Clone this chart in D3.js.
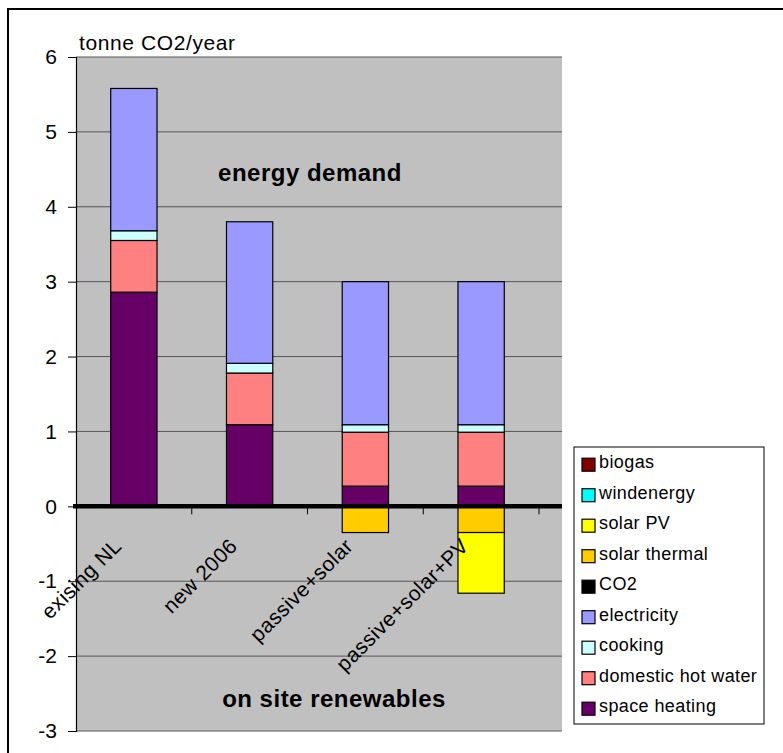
<!DOCTYPE html>
<html>
<head>
<meta charset="utf-8">
<script src="https://cdn.jsdelivr.net/npm/d3@7"></script>
<style>
  body { margin: 0; background: #fff; }
  text { font-family: "Liberation Sans", Arial, sans-serif; }
</style>
</head>
<body>
<div id="chart"></div>
<script>
// categories and series (tonne CO2/year)
const categories = ["exising NL", "new 2006", "passive+solar", "passive+solar+PV"];
const spaceHeating = [2.86, 1.09, 0.27, 0.27];
const hotWater = [0.69, 0.69, 0.72, 0.72];
const cooking = [0.13, 0.13, 0.10, 0.10];
const electricity = [1.90, 1.89, 1.91, 1.91];
const co2 = [0, 0, 0, 0];
const solarThermal = [0, 0, -0.35, -0.35];
const solarPV = [0, 0, 0, -0.81];
const windenergy = [0, 0, 0, 0];
const biogas = [0, 0, 0, 0];
const yTicks = [-3, -2, -1, 0, 1, 2, 3, 4, 5, 6];

const series = [
  { key: "space heating", values: spaceHeating, color: "#660066" },
  { key: "domestic hot water", values: hotWater, color: "#FF8080" },
  { key: "cooking", values: cooking, color: "#CCFFFF" },
  { key: "electricity", values: electricity, color: "#9999FF" },
  { key: "CO2", values: co2, color: "#000000" },
  { key: "solar thermal", values: solarThermal, color: "#FFCC00" },
  { key: "solar PV", values: solarPV, color: "#FFFF00" },
  { key: "windenergy", values: windenergy, color: "#00FFFF" },
  { key: "biogas", values: biogas, color: "#800000" }
];

const W = 783, H = 753;
const svg = d3.select("#chart").append("svg")
  .attr("width", W)
  .attr("height", H);

// chart border (right/bottom run off the picture)
svg.append("rect")
  .attr("x", 8).attr("y", 9)
  .attr("width", 900).attr("height", 900)
  .attr("fill", "none")
  .attr("stroke", "#000")
  .attr("stroke-width", 2);

const plot = { left: 76, right: 562, top: 57, bottom: 731, axisRight: 539 };

const x = d3.scaleBand()
  .domain(categories)
  .range([plot.left, plot.axisRight])
  .paddingInner(0.6)
  .paddingOuter(0.3);

const y = d3.scaleLinear()
  .domain([-3, 6])
  .range([plot.bottom, plot.top]);

// plot background
svg.append("rect")
  .attr("x", plot.left).attr("y", plot.top)
  .attr("width", plot.right - plot.left)
  .attr("height", plot.bottom - plot.top)
  .attr("fill", "#C0C0C0");

// gridlines
svg.append("g")
  .selectAll("line")
  .data(yTicks.filter(d => d !== 0))
  .join("line")
  .attr("x1", plot.left).attr("x2", plot.right)
  .attr("y1", d => y(d)).attr("y2", d => y(d))
  .attr("stroke", "#555")
  .attr("stroke-width", 1);

// stacked bars
const table = categories.map((c, i) => {
  const row = { category: c };
  series.forEach(s => { row[s.key] = s.values[i]; });
  return row;
});

const stacked = d3.stack()
  .keys(series.map(s => s.key))
  .offset(d3.stackOffsetDiverging)(table);

svg.append("g")
  .selectAll("g")
  .data(stacked)
  .join("g")
  .attr("fill", (d, i) => series[i].color)
  .selectAll("rect")
  .data(d => d.filter(p => p[1] - p[0] !== 0))
  .join("rect")
  .attr("x", d => x(d.data.category))
  .attr("width", x.bandwidth())
  .attr("y", d => y(Math.max(d[0], d[1])))
  .attr("height", d => Math.abs(y(d[0]) - y(d[1])))
  .attr("stroke", "#000")
  .attr("stroke-width", 1.2);

// y axis
const yAxis = svg.append("g")
  .attr("transform", `translate(${plot.left},0)`)
  .call(d3.axisLeft(y).tickValues(yTicks).tickSize(8).tickPadding(11).tickFormat(d => String(d)));
yAxis.select(".domain").attr("stroke", "#000").attr("stroke-width", 1.2);
yAxis.selectAll(".tick line").attr("stroke", "#000");
yAxis.selectAll(".tick text")
  .attr("font-size", 21)
  .attr("fill", "#000")
  .style("font-family", "'Liberation Sans', Arial, sans-serif");

// zero axis with category ticks
const bounds = categories.map((c, i) => plot.left + x.step() * (i + 1));
svg.append("g")
  .selectAll("line")
  .data(bounds)
  .join("line")
  .attr("x1", d => d).attr("x2", d => d)
  .attr("y1", y(0)).attr("y2", y(0) + 8)
  .attr("stroke", "#000")
  .attr("stroke-width", 1);

svg.append("line")
  .attr("x1", plot.left - 3).attr("x2", plot.right)
  .attr("y1", y(0)).attr("y2", y(0))
  .attr("stroke", "#000")
  .attr("stroke-width", 4.5);

// category labels
svg.append("g")
  .selectAll("text")
  .data(categories)
  .join("text")
  .attr("transform", d => `translate(${x(d) + x.bandwidth() / 2 - 11},${y(0) + 41}) rotate(-45)`)
  .attr("text-anchor", "end")
  .attr("font-size", 21)
  .attr("letter-spacing", 0.5)
  .attr("fill", "#000")
  .text(d => d);

// titles inside the plot
svg.append("text")
  .attr("x", 79).attr("y", 50)
  .attr("font-size", 21)
  .attr("letter-spacing", 0.6)
  .text("tonne CO2/year");

svg.append("text")
  .attr("x", 310).attr("y", 181)
  .attr("text-anchor", "middle")
  .attr("font-size", 24)
  .attr("font-weight", "bold")
  .attr("letter-spacing", 0.5)
  .text("energy demand");

svg.append("text")
  .attr("x", 334).attr("y", 707)
  .attr("text-anchor", "middle")
  .attr("font-size", 24)
  .attr("font-weight", "bold")
  .attr("letter-spacing", 0.5)
  .text("on site renewables");

// legend (reverse series order, like Excel)
const legend = svg.append("g");
legend.append("rect")
  .attr("x", 574).attr("y", 447)
  .attr("width", 190).attr("height", 277)
  .attr("fill", "#fff")
  .attr("stroke", "#000")
  .attr("stroke-width", 1);

const legendItems = series.slice().reverse();
const rows = legend.selectAll("g.item")
  .data(legendItems)
  .join("g")
  .attr("class", "item")
  .attr("transform", (d, i) => `translate(582,${464.7 + i * 30.5})`);

rows.append("rect")
  .attr("x", 0).attr("y", -6.5)
  .attr("width", 13).attr("height", 13)
  .attr("fill", d => d.color)
  .attr("stroke", "#000")
  .attr("stroke-width", 1.2);

rows.append("text")
  .attr("x", 17).attr("y", 3.5)
  .attr("font-size", 18)
  .attr("letter-spacing", 0.4)
  .text(d => d.key);
</script>
</body>
</html>
